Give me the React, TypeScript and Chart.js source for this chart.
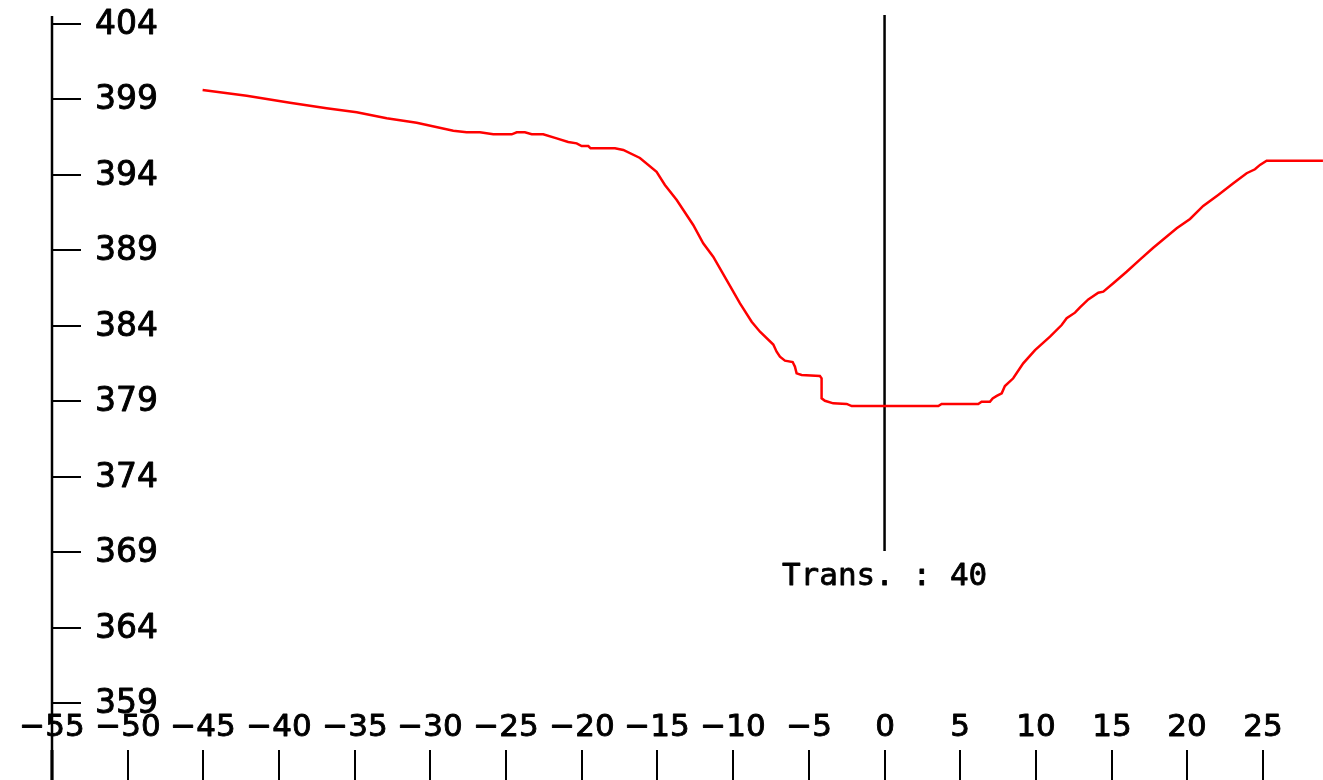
import React, { useEffect, useRef } from "react";
import { Chart, registerables } from "chart.js";

Chart.register(...registerables);

// Profile data (x offset, elevation)
const profileX: number[] = [
  -45.05, -42.14, -39.28, -36.86, -34.87, -32.89, -30.91, -28.49, -27.61, -26.73,
  -25.85, -24.63, -24.3, -23.76, -23.31, -22.55, -21.66, -20.9, -20.34, -20.01,
  -19.57, -19.42, -17.81, -17.26, -16.16, -15.06, -14.51, -13.73, -12.64, -11.98,
  -11.32, -10.43, -9.55, -8.78, -8.23, -7.35, -7.13, -6.91, -6.58, -6.07,
  -5.92, -5.81, -5.48, -4.27, -4.16, -4.16, -3.94, -3.39, -2.5, -2.17,
  3.55, 3.77, 6.19, 6.41, 6.96, 7.14, 7.41, 7.74, 7.95, 8.5,
  9.16, 9.94, 10.93, 11.7, 12.03, 12.58, 12.91, 13.46, 14.12, 14.45,
  15.11, 15.99, 16.87, 17.75, 19.3, 20.18, 21.05, 22.04, 23.04, 23.92,
  24.47, 24.8, 25.24, 28.96,
];
const profileY: number[] = [
  399.63, 399.25, 398.78, 398.41, 398.15, 397.75, 397.46, 396.93, 396.82, 396.82,
  396.69, 396.69, 396.82, 396.82, 396.69, 396.69, 396.42, 396.18, 396.09, 395.91,
  395.91, 395.76, 395.76, 395.65, 395.12, 394.21, 393.33, 392.34, 390.68, 389.47,
  388.58, 387.03, 385.49, 384.27, 383.61, 382.76, 382.28, 381.95, 381.69, 381.6,
  381.29, 380.85, 380.74, 380.67, 380.52, 379.19, 379.03, 378.86, 378.82, 378.68,
  378.68, 378.82, 378.82, 378.97, 378.97, 379.19, 379.35, 379.53, 380.01, 380.52,
  381.51, 382.39, 383.28, 384.05, 384.5, 384.87, 385.22, 385.75, 386.19, 386.26,
  386.82, 387.58, 388.39, 389.17, 390.46, 391.08, 391.94, 392.67, 393.44, 394.11,
  394.37, 394.66, 394.94, 394.94,
];

// Vertical marker at the transect position
const markerX: number[] = [0, 0];
const markerY: number[] = [404.6, 369.07];
const markerLabel = "Trans. : 40";

// Axis ticks
const xTicks: number[] = [-55, -50, -45, -40, -35, -30, -25, -20, -15, -10, -5, 0, 5, 10, 15, 20, 25];
const yTicks: number[] = [404, 399, 394, 389, 384, 379, 374, 369, 364, 359];

// Axis extents
const xMin = -58.435;
const xMax = 28.964;
const yMin = 353.9;
const yMax = 405.59;
const yAxisTop = 404.53;

const fmt = (v: number) => (v < 0 ? "\u2212" + Math.abs(v) : String(v));

const drawText = (ctx: CanvasRenderingContext2D, s: string, x: number, y: number) => {
  ctx.fillText(s, x, y);
  ctx.strokeText(s, x, y);
};

const axesPlugin = {
  id: "customAxes",
  afterDatasetsDraw(chart: any) {
    const { ctx, scales } = chart;
    const xs = scales.x;
    const ys = scales.y;
    const H = chart.height;
    const axisX = Math.round(xs.getPixelForValue(xTicks[0]));
    ctx.save();
    ctx.strokeStyle = "#000";
    ctx.fillStyle = "#000";
    ctx.lineJoin = "round";
    // y axis line
    ctx.lineWidth = 2.5;
    ctx.beginPath();
    ctx.moveTo(axisX, ys.getPixelForValue(yAxisTop));
    ctx.lineTo(axisX, H);
    ctx.stroke();
    // y ticks + labels
    ctx.font = "33px 'DejaVu Sans'";
    ctx.textAlign = "left";
    ctx.textBaseline = "middle";
    for (const v of yTicks) {
      const py = Math.round(ys.getPixelForValue(v));
      ctx.lineWidth = 2;
      ctx.beginPath();
      ctx.moveTo(axisX, py);
      ctx.lineTo(axisX + 29, py);
      ctx.stroke();
      ctx.lineWidth = 0.9;
      drawText(ctx, String(v), axisX + 43, py + 1);
    }
    // x ticks + labels
    ctx.font = "31px 'DejaVu Sans'";
    ctx.textAlign = "center";
    ctx.textBaseline = "middle";
    for (const v of xTicks) {
      const px = Math.round(xs.getPixelForValue(v));
      ctx.lineWidth = v === xTicks[0] ? 3 : 2;
      ctx.beginPath();
      ctx.moveTo(px, 750);
      ctx.lineTo(px, H);
      ctx.stroke();
      ctx.lineWidth = 0.9;
      drawText(ctx, fmt(v), px, 728);
    }
    // marker label
    ctx.font = "31px 'DejaVu Sans Mono'";
    ctx.textAlign = "center";
    ctx.lineWidth = 0.8;
    drawText(ctx, markerLabel, xs.getPixelForValue(markerX[0]), ys.getPixelForValue(markerY[1]) + 26);
    ctx.restore();
  },
};

export default function App() {
  const ref = useRef<HTMLCanvasElement | null>(null);
  useEffect(() => {
    if (!ref.current) return;
    const chart = new Chart(ref.current, {
      type: "scatter",
      data: {
        datasets: [
          {
            data: profileX.map((x, i) => ({ x, y: profileY[i] })),
            showLine: true,
            borderColor: "rgb(255,0,0)",
            borderWidth: 2.5,
            pointRadius: 0,
            tension: 0,
          },
          {
            data: markerX.map((x, i) => ({ x, y: markerY[i] })),
            showLine: true,
            borderColor: "#000",
            borderWidth: 2.5,
            pointRadius: 0,
          },
        ],
      },
      options: {
        animation: false,
        responsive: true,
        maintainAspectRatio: false,
        layout: { padding: 0 },
        plugins: { legend: { display: false }, tooltip: { enabled: false } },
        scales: {
          x: { type: "linear", min: xMin, max: xMax, display: false },
          y: { type: "linear", min: yMin, max: yMax, display: false },
        },
      },
      plugins: [axesPlugin],
    });
    return () => chart.destroy();
  }, []);
  return (
    <div style={{ position: "absolute", left: 0, top: 0, width: 1323, height: 780, background: "#fff" }}>
      <canvas ref={ref} style={{ display: "block" }} />
    </div>
  );
}
